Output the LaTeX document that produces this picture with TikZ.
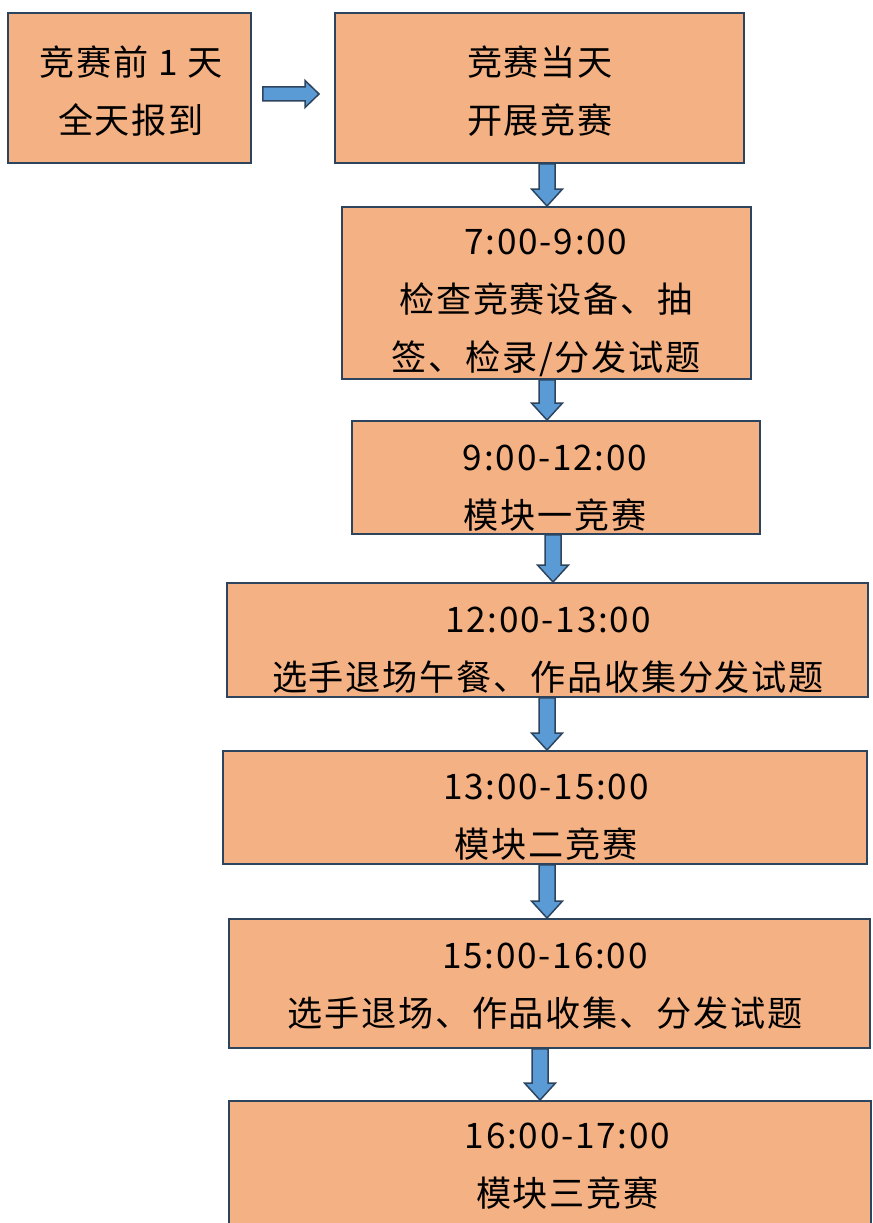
\documentclass[tikz,border=0pt]{standalone}
\usepackage{fontspec}
\usepackage{tikz}
\usetikzlibrary{calc}
\setmainfont[LetterSpace=5]{Noto Sans CJK SC}
\definecolor{stagefill}{RGB}{244,177,131}
\definecolor{stageline}{RGB}{44,68,94}
\definecolor{arrowblue}{RGB}{91,155,213}

\tikzset{
  stage/.style={draw=stageline, fill=stagefill, line width=1.1pt, rectangle},
  stagetext/.style={align=center, inner sep=0pt, font=\fontsize{20pt}{33pt}\selectfont},
  flowarrow/.style={draw=stageline, fill=arrowblue, line width=0.85pt, line join=miter}
}

% block arrow pointing down, from box #1 to box #2 at x = #3
\newcommand{\flowdown}[3]{%
  \draw[flowarrow] let \p1=(#1.south), \p2=(#2.north), \p3=(#3,0) in
    (\x3-0.16cm,\y1) -- (\x3+0.16cm,\y1) -- (\x3+0.16cm,\y2+0.34cm) -- (\x3+0.31cm,\y2+0.34cm)
    -- (\x3,\y2) -- (\x3-0.31cm,\y2+0.34cm) -- (\x3-0.16cm,\y2+0.34cm) -- cycle;}

\begin{document}
\begin{tikzpicture}
\clip (0,0) rectangle (17.44,-24.46);

% Registration day
\node[stage, minimum width=4.86cm, minimum height=3.00cm] (b0) at (2.59,-1.76) {};
\node[stagetext] (t0) at (2.62,-1.82) {竞赛前 1 天\\全天报到};

% Competition day
\node[stage, minimum width=8.18cm, minimum height=3.00cm] (b1) at (10.79,-1.76) {};
\node[stagetext] (t1) at (10.80,-1.82) {竞赛当天\\开展竞赛};

% Check-in
\node[stage, minimum width=8.18cm, minimum height=3.44cm] (b2) at (10.93,-5.86) {};
\node[stagetext] (t2) at (10.92,-6.05) {7:00-9:00\\检查竞赛设备、抽\\签、检录/分发试题};

% Module 1
\node[stage, minimum width=8.16cm, minimum height=2.26cm] (b3) at (11.12,-9.55) {};
\node[stagetext] (t3) at (11.10,-9.77) {9:00-12:00\\模块一竞赛};

% Lunch
\node[stage, minimum width=12.82cm, minimum height=2.28cm] (b4) at (10.95,-12.80) {};
\node[stagetext] (t4) at (10.96,-13.00) {12:00-13:00\\选手退场午餐、作品收集分发试题};

% Module 2
\node[stage, minimum width=12.88cm, minimum height=2.26cm] (b5) at (10.90,-16.15) {};
\node[stagetext] (t5) at (10.92,-16.35) {13:00-15:00\\模块二竞赛};

% Break
\node[stage, minimum width=12.82cm, minimum height=2.58cm] (b6) at (10.99,-19.67) {};
\node[stagetext] (t6) at (10.90,-19.73) {15:00-16:00\\选手退场、作品收集、分发试题};

% Module 3
\node[stage, minimum width=12.84cm, minimum height=2.98cm] (b7) at (11.00,-23.51) {};
\node[stagetext] (t7) at (11.35,-23.33) {16:00-17:00\\模块三竞赛};

% Arrows
\draw[flowarrow] let \p1=(b0.east), \p2=(b1.west) in
  (\x1+0.22cm,\y1+0.02cm) -- (\x2-0.58cm,\y1+0.02cm) -- (\x2-0.58cm,\y1+0.15cm)
  -- (\x2-0.30cm,\y1-0.12cm) -- (\x2-0.58cm,\y1-0.39cm) -- (\x2-0.58cm,\y1-0.26cm)
  -- (\x1+0.22cm,\y1-0.26cm) -- cycle;
\flowdown{b1}{b2}{10.94}
\flowdown{b2}{b3}{10.94}
\flowdown{b3}{b4}{11.06}
\flowdown{b4}{b5}{10.94}
\flowdown{b5}{b6}{10.94}
\flowdown{b6}{b7}{10.80}
\end{tikzpicture}
\end{document}
